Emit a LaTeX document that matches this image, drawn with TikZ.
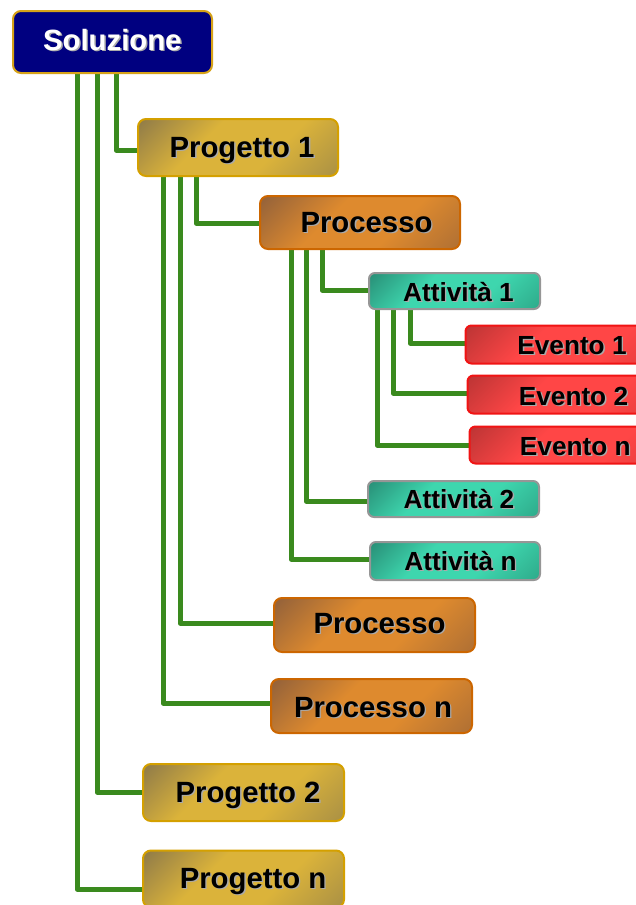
\documentclass[tikz,border=0pt]{standalone}
\usepackage{fontspec}
\setmainfont{Liberation Sans}
\usetikzlibrary{backgrounds}
\definecolor{navy}{RGB}{0,0,128}
\definecolor{solgold}{RGB}{214,162,24}
\definecolor{linkgreen}{RGB}{58,138,30}
\definecolor{shadowgray}{RGB}{170,170,170}
\definecolor{progborder}{RGB}{212,160,0}
\definecolor{progdark}{RGB}{146,125,72}
\definecolor{progbright}{RGB}{219,179,58}
\definecolor{progmid}{RGB}{172,146,68}
\definecolor{procborder}{RGB}{204,102,0}
\definecolor{procdark}{RGB}{148,98,58}
\definecolor{procbright}{RGB}{222,138,46}
\definecolor{procmid}{RGB}{176,112,52}
\definecolor{attborder}{RGB}{150,150,150}
\definecolor{attdark}{RGB}{40,142,118}
\definecolor{attbright}{RGB}{62,214,174}
\definecolor{attmid}{RGB}{46,170,138}
\definecolor{evborder}{RGB}{240,20,20}
\definecolor{evdark}{RGB}{186,52,52}
\definecolor{evbright}{RGB}{255,70,70}
\definecolor{evmid}{RGB}{216,58,58}
% diagonal fills: dark upper-left corner, bright body, slightly darker lower-right
\pgfdeclarehorizontalshading{progshade}{100bp}{color(0bp)=(progdark); color(29bp)=(progdark); color(43bp)=(progbright); color(57bp)=(progbright); color(71bp)=(progmid); color(100bp)=(progmid)}
\pgfdeclarehorizontalshading{procshade}{100bp}{color(0bp)=(procdark); color(29bp)=(procdark); color(44bp)=(procbright); color(57bp)=(procbright); color(71bp)=(procmid); color(100bp)=(procmid)}
\pgfdeclarehorizontalshading{attshade}{100bp}{color(0bp)=(attdark); color(29bp)=(attdark); color(43bp)=(attbright); color(57bp)=(attbright); color(71bp)=(attmid); color(100bp)=(attmid)}
\pgfdeclarehorizontalshading{evshade}{100bp}{color(0bp)=(evdark); color(29bp)=(evdark); color(43bp)=(evbright); color(57bp)=(evbright); color(71bp)=(evmid); color(100bp)=(evmid)}
\tikzset{
  box/.style={rectangle, rounded corners=8pt, line width=2pt, inner sep=0pt, outer sep=0pt},
  smallbox/.style={box, rounded corners=6pt},
  % fill a box with a 45-degree shading laid on a square of the given side
  diagshade/.style 2 args={fill=white, path picture={
      \shade[shading=#1, shading angle=-45] (path picture bounding box.center) ++(-#2/2,-#2/2) rectangle ++(#2,#2);
  }},
  soluzionebox/.style={box, fill=navy, draw=solgold},
  progettobox/.style={box, draw=progborder, diagshade={progshade}{210pt}},
  processobox/.style={box, draw=procborder, diagshade={procshade}{210pt}},
  attivitabox/.style={smallbox, draw=attborder, diagshade={attshade}{175pt}},
  eventobox/.style={smallbox, draw=evborder, diagshade={evshade}{215pt}},
  link/.style={draw=linkgreen, line width=5pt, line join=round},
  biglbl/.style={font=\bfseries\fontsize{29.3}{32}\selectfont, inner sep=0pt, anchor=base},
  smalllbl/.style={font=\bfseries\fontsize{26.2}{28}\selectfont, inner sep=0pt, anchor=base},
}
% label with a soft drop shadow: name, style, x, baseline y, text colour, text
\newcommand\shadowlabel[6]{%
  \node[#2, text=shadowgray] (#1-sh) at (#3+1.4,#4+1.4) {#6};
  \node[#2, text=#5] (#1) at (#3,#4) {#6};
}
\begin{document}
\begin{tikzpicture}[x=1pt,y=-1pt]
\useasboundingbox (0,0) rectangle (636,905);

% boxes (centre, width, height)
\node[soluzionebox, minimum width=199pt, minimum height=62pt] (sol) at (112.5,42) {};
\node[progettobox, minimum width=200pt, minimum height=57pt] (p1) at (238,147.5) {};
\node[processobox, minimum width=200pt, minimum height=53pt] (pra) at (360,222.5) {};
\node[attivitabox, minimum width=171pt, minimum height=36pt] (a1) at (454.5,291) {};
\node[eventobox, minimum width=213pt, minimum height=38pt] (e1) at (572,344.5) {};
\node[eventobox, minimum width=213pt, minimum height=38pt] (e2) at (574,394.5) {};
\node[eventobox, minimum width=213pt, minimum height=37pt] (en) at (576,445) {};
\node[attivitabox, minimum width=171pt, minimum height=36pt] (a2) at (453.5,499) {};
\node[attivitabox, minimum width=170pt, minimum height=38pt] (an) at (455,561) {};
\node[processobox, minimum width=201pt, minimum height=54pt] (prb) at (374.5,625) {};
\node[processobox, minimum width=201pt, minimum height=54pt] (prn) at (371.5,706) {};
\node[progettobox, minimum width=201pt, minimum height=57pt] (p2) at (243.5,792.5) {};
\node[progettobox, minimum width=201pt, minimum height=57pt] (pn) at (243.5,879) {};

% connectors, drawn behind the boxes
\begin{scope}[on background layer]
\path[link] (116,0 |- sol.south) |- (p1.west |- 0,150);
\path[link] (97,0 |- sol.south) |- (p2.west |- 0,792);
\path[link] (77,0 |- sol.south) |- (pn.west |- 0,889);
\path[link] (196,0 |- p1.south) |- (pra.west |- 0,223);
\path[link] (180,0 |- p1.south) |- (prb.west |- 0,623);
\path[link] (163,0 |- p1.south) |- (prn.west |- 0,703);
\path[link] (322,0 |- pra.south) |- (a1.west |- 0,290);
\path[link] (306,0 |- pra.south) |- (a2.west |- 0,501);
\path[link] (291,0 |- pra.south) |- (an.west |- 0,559);
\path[link] (410,0 |- a1.south) |- (e1.west |- 0,343);
\path[link] (393,0 |- a1.south) |- (e2.west |- 0,393);
\path[link] (377,0 |- a1.south) |- (en.west |- 0,445);
\end{scope}

% labels
\shadowlabel{tsol}{biglbl}{112.3}{50.5}{white}{Soluzione}
\shadowlabel{tp1}{biglbl}{242}{157}{black}{Progetto 1}
\shadowlabel{tpra}{biglbl}{366.5}{232.5}{black}{Processo}
\shadowlabel{ta1}{smalllbl}{458.5}{301.5}{black}{Attività 1}
\shadowlabel{te1}{smalllbl}{572}{354}{black}{Evento 1}
\shadowlabel{te2}{smalllbl}{573.5}{405}{black}{Evento 2}
\shadowlabel{ten}{smalllbl}{575.3}{455}{black}{Evento n}
\shadowlabel{ta2}{smalllbl}{459}{508.5}{black}{Attività 2}
\shadowlabel{tan}{smalllbl}{460.5}{570.5}{black}{Attività n}
\shadowlabel{tprb}{biglbl}{379.5}{633}{black}{Processo}
\shadowlabel{tprn}{biglbl}{373}{717}{black}{Processo n}
\shadowlabel{tp2}{biglbl}{248}{802}{black}{Progetto 2}
\shadowlabel{tpn}{biglbl}{253}{888}{black}{Progetto n}
\end{tikzpicture}
\end{document}
